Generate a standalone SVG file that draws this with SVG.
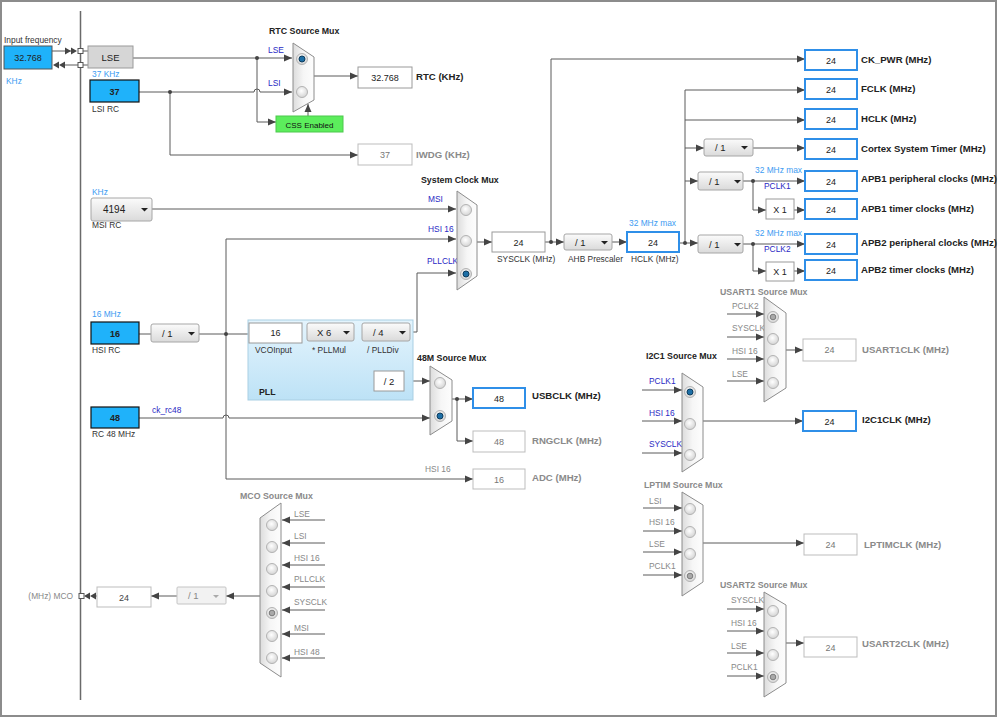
<svg xmlns="http://www.w3.org/2000/svg" width="998" height="718" viewBox="0 0 998 718">
<style>
text{font-family:"Liberation Sans",Arial,sans-serif;font-size:8.4px;fill:#333}
.v{font-size:9px;text-anchor:middle;fill:#222}
.vg{font-size:9px;text-anchor:middle;fill:#777}
.b{font-weight:bold;font-size:9.6px;fill:#222}
.bg{font-weight:bold;font-size:9.6px;fill:#8a8a8a}
.t{font-weight:bold;font-size:8.8px;fill:#222}
.tg{font-weight:bold;font-size:8.8px;fill:#8a8a8a}
.bl{fill:#2a2ac4}
.lb{fill:#3d9cf2}
.g{fill:#888}
.ln{fill:none;stroke:#5a5a5a;stroke-width:1}
.ar{fill:none;stroke:#5a5a5a;stroke-width:1;marker-end:url(#ah)}
.dot{fill:#444}
.box{fill:#fff;stroke:#9a9a9a;stroke-width:1}
.boxg{fill:#fff;stroke:#bdbdbd;stroke-width:1}
.boxb{fill:#fff;stroke:#2f8fe8;stroke-width:2}
.cy{fill:#1fb2fa;stroke:#555;stroke-width:1}
.cyk{fill:#1fb2fa;stroke:#111;stroke-width:1.2}
.dd{fill:url(#ddg);stroke:#a6a6a6;stroke-width:1}
.ddx{fill:#f2f2f2;stroke:#c4c4c4;stroke-width:1}
.tri{fill:#222}
.trix{fill:#aaa}
.mux{fill:url(#mxg);stroke:#8c8c8c;stroke-width:1}
.rd{fill:url(#rdg);stroke:#b3b3b3;stroke-width:1}
.sel{fill:#1d6fa6;stroke:#0c3b5c;stroke-width:1}
.selg{fill:#a9a9a9;stroke:#7a7a7a;stroke-width:1}
</style>
<defs>
<marker id="ah" markerUnits="userSpaceOnUse" markerWidth="9" markerHeight="8" refX="8" refY="4" orient="auto">
<path d="M0,0.5 L8,4 L0,7.5 z" fill="#444"/>
</marker>
<linearGradient id="ddg" x1="0" y1="0" x2="0" y2="1"><stop offset="0" stop-color="#fbfbfb"/><stop offset="1" stop-color="#dadada"/></linearGradient>
<linearGradient id="mxg" x1="0" y1="0" x2="1" y2="0"><stop offset="0" stop-color="#dcdcdc"/><stop offset="0.5" stop-color="#f6f6f6"/><stop offset="1" stop-color="#fdfdfd"/></linearGradient>
<linearGradient id="pllg" x1="0" y1="0" x2="0" y2="1"><stop offset="0" stop-color="#e4f4fd"/><stop offset="1" stop-color="#bde2f6"/></linearGradient>
<radialGradient id="rdg" cx="0.45" cy="0.4" r="0.6"><stop offset="0" stop-color="#ffffff"/><stop offset="1" stop-color="#d4d4d4"/></radialGradient>
</defs>
<rect x="0" y="0" width="998" height="718" fill="#fff"/>
<rect x="1" y="1" width="995" height="715" fill="none" stroke="#8c8c8c" stroke-width="2"/>
<line x1="80.5" y1="11" x2="80.5" y2="700" stroke="#6a6a6a" stroke-width="1.5"/>

<g id="connectors">
<path class="ln" d="M52,51 H72 M65,65 H78 M83,51 H88 M83,65 H88"/>
<polygon points="65,47.5 71,51 65,54.5" fill="#444"/><polygon points="71,47.5 77,51 71,54.5" fill="#444"/>
<polygon points="59,61.5 53,65 59,68.5" fill="#444"/><polygon points="65,61.5 59,65 65,68.5" fill="#444"/>
<path class="ar" d="M133,58 H292"/>
<path class="ar" d="M139,92 H254 a3,3 0 0 1 6,0 H292"/>
<path class="ar" d="M257,58 V122 H276"/>
<path class="ar" d="M308,116 V104"/>
<path class="ar" d="M170,92 V155 H358"/>
<path class="ar" d="M314,76 H358"/>
<path class="ar" d="M152,209 H456"/>
<path class="ln" d="M139,334 H151 M199,334 H248"/>
<path class="ar" d="M226,479 V239 H456"/>
<path class="ar" d="M226,479 H473"/>
<path class="ar" d="M139,418 H223 a3,3 0 0 1 6,0 H430"/>
<path class="ln" d="M354,332 H362 M357,332 V381 H374"/>
<path class="ar" d="M404,381 H430"/>
<path class="ar" d="M410,332 H417 V273 H456"/>
<path class="ar" d="M477,242 H492"/>
<path class="ar" d="M545,242 H564"/>
<path class="ar" d="M551,242 V59 H805"/>
<path class="ar" d="M612,242 H627"/>
<path class="ar" d="M679,243 H698"/>
<path class="ar" d="M685,243 V90 H805"/>
<path class="ar" d="M685,120 H805"/>
<path class="ar" d="M685,148 H704"/>
<path class="ar" d="M753,148 H805"/>
<path class="ar" d="M685,181 H698"/>
<path class="ar" d="M743,181 H805"/>
<path class="ar" d="M753,181 V210 H766"/>
<path class="ar" d="M794,210 H805"/>
<path class="ar" d="M743,244 H805"/>
<path class="ar" d="M753,244 V271 H766"/>
<path class="ar" d="M794,271 H805"/>
<path class="ar" d="M452,399 H473"/>
<path class="ar" d="M457,399 V441 H473"/>
<path class="ar" d="M727,314 H764"/><path class="ar" d="M727,337 H764"/><path class="ar" d="M727,359 H764"/><path class="ar" d="M727,381 H764"/>
<path class="ar" d="M786,350 H803"/>
<path class="ar" d="M642,390 H682"/><path class="ar" d="M642,421 H682"/><path class="ar" d="M642,453 H682"/>
<path class="ar" d="M703,421 H803"/>
<path class="ar" d="M643,508 H682"/><path class="ar" d="M643,531 H682"/><path class="ar" d="M643,552 H682"/><path class="ar" d="M643,575 H682"/>
<path class="ar" d="M703,543 H804"/>
<path class="ar" d="M727,609 H764"/><path class="ar" d="M727,631 H764"/><path class="ar" d="M727,653 H764"/><path class="ar" d="M727,676 H764"/>
<path class="ar" d="M786,643 H804"/>
<path class="ar" d="M325,520 H282"/><path class="ar" d="M325,543 H282"/><path class="ar" d="M325,565 H282"/><path class="ar" d="M325,587 H282"/><path class="ar" d="M325,610 H282"/><path class="ar" d="M325,634 H282"/><path class="ar" d="M325,658 H282"/>
<path class="ar" d="M260,596 H226"/>
<path class="ar" d="M177,596 H151"/>
<path class="ln" d="M97,596 H95"/>
<polygon points="90,592.5 84,596 90,599.5" fill="#444"/><polygon points="96,592.5 90,596 96,599.5" fill="#444"/>
<circle class="dot" cx="257" cy="58" r="2"/>
<circle class="dot" cx="170" cy="92" r="2"/>
<circle class="dot" cx="226" cy="334" r="2"/>
<circle class="dot" cx="551" cy="242" r="2"/>
<circle class="dot" cx="685" cy="243" r="2"/>
<circle class="dot" cx="753" cy="181" r="2"/>
<circle class="dot" cx="753" cy="244" r="2"/>
<circle class="dot" cx="457" cy="399" r="2"/>
</g>

<g id="input-frequency">
<text x="4" y="43">Input frequency</text>
<rect class="cy" x="4" y="46" width="48" height="23"/>
<text class="v" x="28" y="61">32.768</text>
<text class="lb" x="6" y="84">KHz</text>
<rect x="78" y="48.5" width="5" height="5" fill="#fff" stroke="#555"/>
<rect x="78" y="62.5" width="5" height="5" fill="#fff" stroke="#555"/>
</g>

<g id="lse">
<rect x="88" y="46" width="45" height="22" fill="#d6d6d6" stroke="#9a9a9a"/>
<text class="v" x="110.5" y="61" style="font-size:9.5px">LSE</text>
</g>

<g id="lsi-rc">
<text class="lb" x="92" y="77">37 KHz</text>
<rect class="cyk" x="90" y="80" width="49" height="22"/>
<text class="v" x="114.5" y="95" style="font-weight:bold">37</text>
<text x="92" y="112">LSI RC</text>
</g>

<g id="rtc-mux">
<text class="t" x="269" y="34">RTC Source Mux</text>
<text class="bl" x="268" y="53">LSE</text>
<text class="bl" x="268" y="86">LSI</text>
<polygon class="mux" points="293,43 314,57 314,100 293,112"/>
<circle class="rd" cx="302" cy="59" r="5.5"/><circle class="sel" cx="302" cy="59" r="3"/>
<circle class="rd" cx="302" cy="92" r="5.5"/>
</g>

<g id="css">
<rect x="276" y="116" width="67" height="16" fill="#5ced5c" stroke="#4cc84c"/>
<text x="309.5" y="127.5" text-anchor="middle" style="font-size:8px;fill:#111">CSS Enabled</text>
</g>

<g id="rtc-out">
<rect class="box" x="358" y="67" width="54" height="21"/>
<text class="v" x="385" y="81">32.768</text>
<text class="b" x="416" y="80">RTC (KHz)</text>
</g>

<g id="iwdg-out">
<rect class="boxg" x="358" y="144" width="54" height="21"/>
<text class="vg" x="385" y="158">37</text>
<text class="bg" x="416" y="158">IWDG (KHz)</text>
</g>

<g id="msi-rc">
<text class="lb" x="92" y="195">KHz</text>
<rect class="dd" x="91" y="198" width="61" height="23" rx="2"/>
<text x="103" y="213" style="font-size:10px;fill:#222">4194</text>
<polygon class="tri" points="141,208 148,208 144.5,211.5"/>
<text x="92" y="228">MSI RC</text>
</g>

<g id="hsi-rc">
<text class="lb" x="92" y="317">16 MHz</text>
<rect class="cyk" x="91" y="322" width="48" height="22"/>
<text class="v" x="115" y="337" style="font-weight:bold">16</text>
<text x="92" y="353">HSI RC</text>
<rect class="dd" x="151" y="324" width="48" height="18" rx="2"/>
<text x="162" y="336.5" style="font-size:9.5px;fill:#222">/ 1</text>
<polygon class="tri" points="188,332 195,332 191.5,335.5"/>
</g>

<g id="rc48">
<text class="bl" x="152" y="413">ck_rc48</text>
<rect class="cyk" x="91" y="407" width="48" height="21"/>
<text class="v" x="115" y="421" style="font-weight:bold">48</text>
<text x="92" y="437">RC 48 MHz</text>
</g>

<g id="pll">
<rect x="248" y="320" width="165" height="80" fill="url(#pllg)" stroke="#a9cfe3"/>
<rect class="box" x="249" y="323" width="53" height="20"/>
<text class="v" x="275.5" y="336">16</text>
<text x="255" y="353">VCOInput</text>
<rect class="dd" x="307" y="323" width="47" height="18" rx="2"/>
<text x="317" y="335.5" style="font-size:9.5px;fill:#222">X 6</text>
<polygon class="tri" points="343,331 350,331 346.5,334.5"/>
<text x="312" y="353">* PLLMul</text>
<rect class="dd" x="362" y="323" width="48" height="18" rx="2"/>
<text x="373" y="335.5" style="font-size:9.5px;fill:#222">/ 4</text>
<polygon class="tri" points="399,331 406,331 402.5,334.5"/>
<text x="367" y="353">/ PLLDiv</text>
<rect class="box" x="374" y="371" width="30" height="20"/>
<text class="v" x="389" y="384.5" style="font-size:9.5px">/ 2</text>
<text class="t" x="259" y="395">PLL</text>
</g>

<g id="sysclk-mux">
<text class="t" x="421" y="183">System Clock Mux</text>
<text class="bl" x="428" y="202">MSI</text>
<text class="bl" x="428" y="232">HSI 16</text>
<text class="bl" x="427" y="264">PLLCLK</text>
<polygon class="mux" points="457,191 477,205 477,276 457,290"/>
<circle class="rd" cx="466" cy="210" r="5.5"/>
<circle class="rd" cx="466" cy="241" r="5.5"/>
<circle class="rd" cx="466" cy="274" r="5.5"/><circle class="sel" cx="466" cy="274" r="3"/>
</g>

<g id="sysclk">
<rect class="box" x="492" y="232" width="53" height="20"/>
<text class="v" x="518.5" y="245.5">24</text>
<text x="497" y="262">SYSCLK (MHz)</text>
</g>

<g id="ahb">
<rect class="dd" x="564" y="234" width="48" height="16" rx="2"/>
<text x="575" y="245.5" style="font-size:9.5px;fill:#222">/ 1</text>
<polygon class="tri" points="601,241 608,241 604.5,244.5"/>
<text x="568" y="262">AHB Prescaler</text>
</g>

<g id="hclk">
<text class="lb" x="629" y="226">32 MHz max</text>
<rect class="boxb" x="627" y="232" width="52" height="20"/>
<text class="v" x="653" y="245.5">24</text>
<text x="631" y="262">HCLK (MHz)</text>
</g>

<g id="ck-pwr"><rect class="boxb" x="805" y="50" width="52" height="20"/><text class="v" x="831" y="63.5">24</text><text class="b" x="861" y="63">CK_PWR (MHz)</text></g>
<g id="fclk"><rect class="boxb" x="805" y="79" width="52" height="20"/><text class="v" x="831" y="92.5">24</text><text class="b" x="861" y="92">FCLK (MHz)</text></g>
<g id="hclk-out"><rect class="boxb" x="805" y="109" width="52" height="20"/><text class="v" x="831" y="122.5">24</text><text class="b" x="861" y="122">HCLK (MHz)</text></g>
<g id="cortex">
<rect class="dd" x="704" y="139" width="49" height="17" rx="2"/>
<text x="715" y="151" style="font-size:9.5px;fill:#222">/ 1</text>
<polygon class="tri" points="741,146 748,146 744.5,149.5"/>
<rect class="boxb" x="805" y="139" width="52" height="20"/><text class="v" x="831" y="152.5">24</text><text class="b" x="861" y="152">Cortex System Timer (MHz)</text>
</g>
<g id="apb1">
<rect class="dd" x="698" y="172" width="45" height="18" rx="2"/>
<text x="709" y="184.5" style="font-size:9.5px;fill:#222">/ 1</text>
<polygon class="tri" points="736,180 743,180 739.5,183.5" transform="translate(-2,0)"/>
<text class="lb" x="755" y="173">32 MHz max</text>
<text class="bl" x="764" y="189">PCLK1</text>
<rect class="boxb" x="805" y="171" width="52" height="20"/><text class="v" x="831" y="184.5">24</text><text class="b" x="861" y="182">APB1 peripheral clocks (MHz)</text>
<rect class="box" x="766" y="199" width="28" height="20"/><text class="v" x="780" y="212.5">X 1</text>
<rect class="boxb" x="805" y="199" width="52" height="20"/><text class="v" x="831" y="212.5">24</text><text class="b" x="861" y="212">APB1 timer clocks (MHz)</text>
</g>
<g id="apb2">
<rect class="dd" x="698" y="235" width="45" height="18" rx="2"/>
<text x="709" y="247.5" style="font-size:9.5px;fill:#222">/ 1</text>
<polygon class="tri" points="734,243 741,243 737.5,246.5"/>
<text class="lb" x="755" y="236">32 MHz max</text>
<text class="bl" x="764" y="252">PCLK2</text>
<rect class="boxb" x="805" y="234" width="52" height="20"/><text class="v" x="831" y="247.5">24</text><text class="b" x="861" y="246">APB2 peripheral clocks (MHz)</text>
<rect class="box" x="766" y="262" width="28" height="19"/><text class="v" x="780" y="275">X 1</text>
<rect class="boxb" x="805" y="260" width="52" height="20"/><text class="v" x="831" y="273.5">24</text><text class="b" x="861" y="273">APB2 timer clocks (MHz)</text>
</g>

<g id="mux48">
<text class="t" x="417" y="361">48M Source Mux</text>
<polygon class="mux" points="430,366 452,380 452,421 430,435"/>
<circle class="rd" cx="440" cy="383" r="5.5"/>
<circle class="rd" cx="440" cy="416" r="5.5"/><circle class="sel" cx="440" cy="416" r="3"/>
</g>
<g id="usbclk"><rect class="boxb" x="473" y="388" width="52" height="20"/><text class="v" x="499" y="401.5">48</text><text class="b" x="532" y="399">USBCLK (MHz)</text></g>
<g id="rngclk"><rect class="boxg" x="473" y="431" width="52" height="21"/><text class="vg" x="499" y="445">48</text><text class="bg" x="532" y="444">RNGCLK (MHz)</text></g>
<g id="adc"><text class="g" x="425" y="472">HSI 16</text><rect class="boxg" x="473" y="469" width="52" height="20"/><text class="vg" x="499" y="482.5">16</text><text class="bg" x="532" y="481">ADC (MHz)</text></g>

<g id="usart1-mux">
<text class="tg" x="720" y="295">USART1 Source Mux</text>
<text class="g" x="732" y="309">PCLK2</text><text class="g" x="732" y="331">SYSCLK</text><text class="g" x="732" y="354">HSI 16</text><text class="g" x="732" y="377">LSE</text>
<polygon class="mux" points="764,297 786,313 786,388 764,402"/>
<circle class="rd" cx="773" cy="317" r="5.5"/><circle class="selg" cx="773" cy="317" r="2.8"/>
<circle class="rd" cx="773" cy="339" r="5.5"/><circle class="rd" cx="773" cy="361" r="5.5"/><circle class="rd" cx="773" cy="383" r="5.5"/>
</g>
<g id="usart1clk"><rect class="boxg" x="803" y="339" width="53" height="22"/><text class="vg" x="829.5" y="353">24</text><text class="bg" x="862" y="353">USART1CLK (MHz)</text></g>

<g id="i2c1-mux">
<text class="t" x="646" y="359">I2C1 Source Mux</text>
<text class="bl" x="649" y="384">PCLK1</text><text class="bl" x="649" y="416">HSI 16</text><text class="bl" x="649" y="447">SYSCLK</text>
<polygon class="mux" points="682,373 703,387 703,458 682,472"/>
<circle class="rd" cx="690" cy="392" r="5.5"/><circle class="sel" cx="690" cy="392" r="3"/>
<circle class="rd" cx="690" cy="424" r="5.5"/><circle class="rd" cx="690" cy="455" r="5.5"/>
</g>
<g id="i2c1clk"><rect class="boxb" x="803" y="411" width="53" height="20"/><text class="v" x="829.5" y="424.5">24</text><text class="b" x="862" y="423">I2C1CLK (MHz)</text></g>

<g id="lptim-mux">
<text class="tg" x="644" y="488">LPTIM Source Mux</text>
<text class="g" x="649" y="504">LSI</text><text class="g" x="649" y="525">HSI 16</text><text class="g" x="649" y="547">LSE</text><text class="g" x="649" y="569">PCLK1</text>
<polygon class="mux" points="682,492 703,505 703,582 682,596"/>
<circle class="rd" cx="690" cy="509" r="5.5"/><circle class="rd" cx="690" cy="532" r="5.5"/><circle class="rd" cx="690" cy="554" r="5.5"/>
<circle class="rd" cx="690" cy="576" r="5.5"/><circle class="selg" cx="690" cy="576" r="2.8"/>
</g>
<g id="lptimclk"><rect class="boxg" x="804" y="534" width="53" height="21"/><text class="vg" x="830.5" y="548">24</text><text class="bg" x="864" y="548">LPTIMCLK (MHz)</text></g>

<g id="usart2-mux">
<text class="tg" x="720" y="588">USART2 Source Mux</text>
<text class="g" x="731" y="603">SYSCLK</text><text class="g" x="731" y="626">HSI 16</text><text class="g" x="731" y="649">LSE</text><text class="g" x="731" y="670">PCLK1</text>
<polygon class="mux" points="764,592 786,605 786,683 764,697"/>
<circle class="rd" cx="773" cy="611" r="5.5"/><circle class="rd" cx="773" cy="633" r="5.5"/><circle class="rd" cx="773" cy="655" r="5.5"/>
<circle class="rd" cx="773" cy="677" r="5.5"/><circle class="selg" cx="773" cy="677" r="2.8"/>
</g>
<g id="usart2clk"><rect class="boxg" x="804" y="637" width="53" height="20"/><text class="vg" x="830.5" y="650.5">24</text><text class="bg" x="862" y="647">USART2CLK (MHz)</text></g>

<g id="mco-mux">
<text class="tg" x="240" y="499">MCO Source Mux</text>
<text class="g" x="294" y="517">LSE</text><text class="g" x="294" y="539">LSI</text><text class="g" x="294" y="561">HSI 16</text><text class="g" x="294" y="582">PLLCLK</text><text class="g" x="294" y="605">SYSCLK</text><text class="g" x="294" y="631">MSI</text><text class="g" x="294" y="655">HSI 48</text>
<polygon class="mux" points="281,503 281,677 260,663 260,518"/>
<circle class="rd" cx="272" cy="525" r="5.5"/><circle class="rd" cx="272" cy="547" r="5.5"/><circle class="rd" cx="272" cy="569" r="5.5"/><circle class="rd" cx="272" cy="591" r="5.5"/>
<circle class="rd" cx="272" cy="613" r="5.5"/><circle class="selg" cx="272" cy="613" r="2.8"/>
<circle class="rd" cx="272" cy="636" r="5.5"/><circle class="rd" cx="272" cy="658" r="5.5"/>
</g>
<g id="mco-out">
<rect class="ddx" x="177" y="587" width="49" height="17" rx="1"/>
<text x="188" y="599" style="font-size:9.5px;fill:#888">/ 1</text>
<polygon class="trix" points="213,595 219,595 216,598"/>
<rect class="boxg" x="97" y="587" width="54" height="20"/>
<text class="v" x="124" y="600.5" style="fill:#444">24</text>
<rect x="79" y="593.5" width="5" height="5" fill="#fff" stroke="#555"/>
<text class="g" x="73" y="599" text-anchor="end">(MHz) MCO</text>
</g>
</svg>
